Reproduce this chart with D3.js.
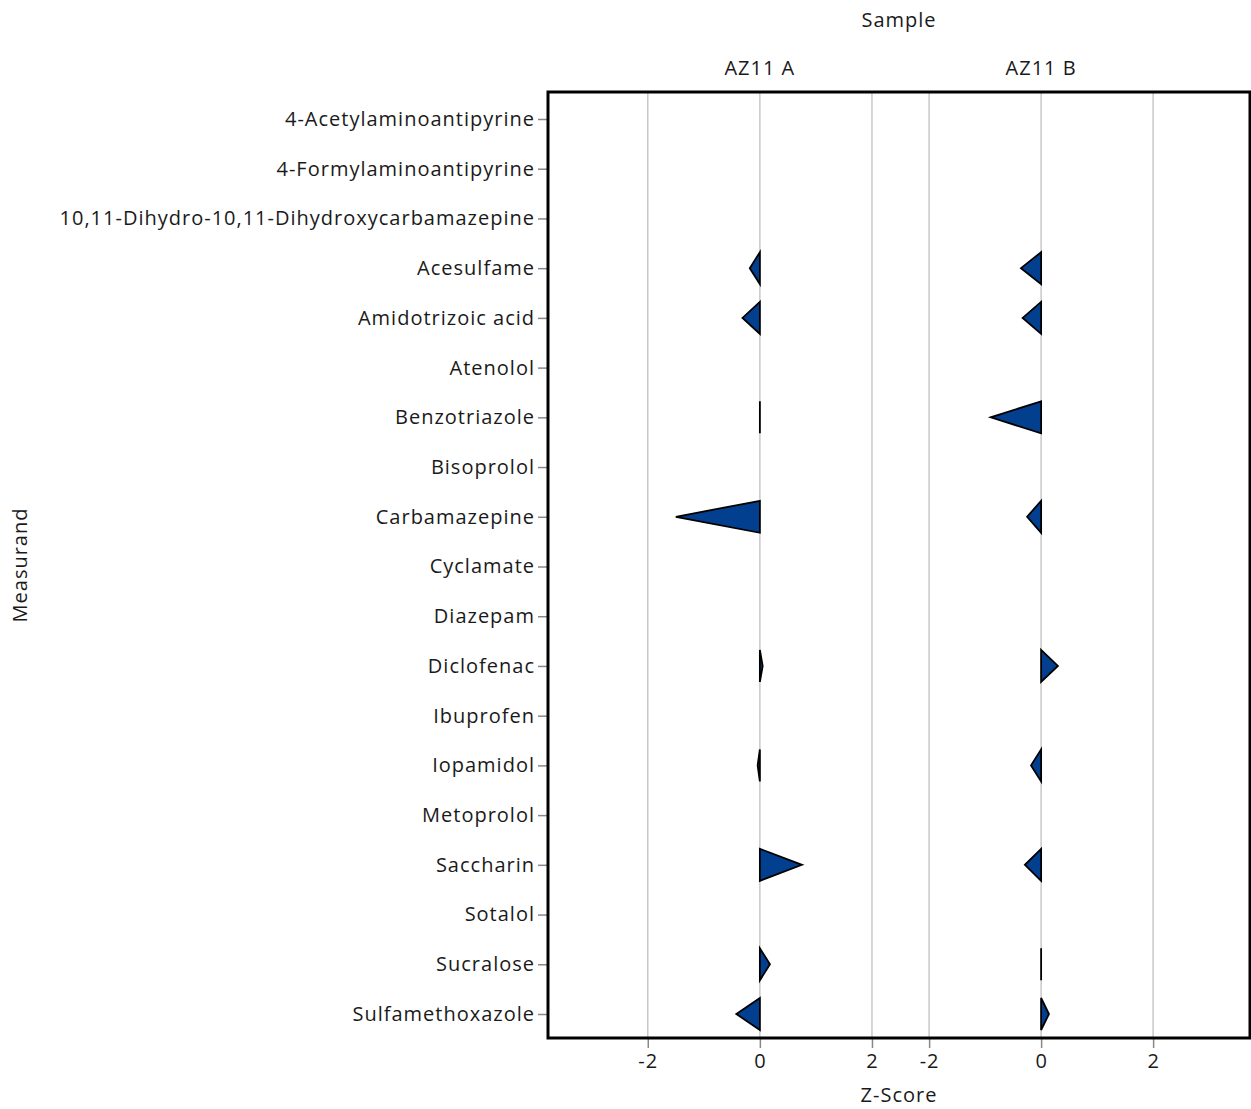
<!DOCTYPE html>
<html>
<head>
<meta charset="utf-8">
<script src="https://cdn.jsdelivr.net/npm/d3@7"></script>
<style>
  body { margin: 0; background: #fff; }
  text { font-family: "Open Sans", "Noto Sans", sans-serif; fill: #1a1a1a; letter-spacing: 1px; }
</style>
</head>
<body>
<svg width="1251" height="1109"></svg>
<script>
var measurands = ["4-Acetylaminoantipyrine", "4-Formylaminoantipyrine",
  "10,11-Dihydro-10,11-Dihydroxycarbamazepine", "Acesulfame", "Amidotrizoic acid",
  "Atenolol", "Benzotriazole", "Bisoprolol", "Carbamazepine", "Cyclamate", "Diazepam",
  "Diclofenac", "Ibuprofen", "Iopamidol", "Metoprolol", "Saccharin", "Sotalol",
  "Sucralose", "Sulfamethoxazole"];

var samples = ["AZ11 A", "AZ11 B"];

// z-scores per measurand, null = not reported
var zA = [null, null, null, -0.18, -0.31, null, 0.0, null, -1.5, null, null,
          0.05, null, -0.04, null, 0.75, null, 0.18, -0.42];
var zB = [null, null, null, -0.36, -0.33, null, -0.9, null, -0.25, null, null,
          0.30, null, -0.18, null, -0.29, null, 0.0, 0.14];

var xTicks = [-2, 0, 2];

var svg = d3.select("svg");
var pLeft = 548, pRight = 1250, pTop = 92, pBottom = 1038, pSplit = 900;

var y = d3.scalePoint()
  .domain(measurands)
  .range([119, 1014]);

var xs = [
  d3.scaleLinear().domain([-3.78, 2.5]).range([pLeft, pSplit]),
  d3.scaleLinear().domain([-2.52, 3.73]).range([pSplit, pRight])
];
var series = [zA, zB];

// gridlines
xs.forEach(function(x) {
  svg.append("g")
    .selectAll("line")
    .data(xTicks)
    .enter().append("line")
      .attr("x1", d => x(d)).attr("x2", d => x(d))
      .attr("y1", pTop).attr("y2", pBottom)
      .attr("stroke", "#c8c8c8")
      .attr("stroke-width", 1.5);
});

// triangles
var half = 16;
xs.forEach(function(x, i) {
  var pts = measurands.map((m, j) => ({m: m, z: series[i][j]}))
                      .filter(d => d.z !== null);
  svg.append("g")
    .selectAll("path")
    .data(pts)
    .enter().append("path")
      .attr("d", function(d) {
        var x0 = x(0), yc = y(d.m);
        return "M" + x0 + "," + (yc - half) + "L" + x(d.z) + "," + yc +
               "L" + x0 + "," + (yc + half) + "Z";
      })
      .attr("fill", "#023f8f")
      .attr("stroke", "#000")
      .attr("stroke-width", 1.8)
      .attr("stroke-linejoin", "miter");
});

// y axis
var yAxis = svg.append("g")
  .attr("transform", "translate(" + pLeft + ",0)")
  .call(d3.axisLeft(y).tickSize(10).tickPadding(3));
yAxis.select(".domain").remove();
yAxis.selectAll(".tick line").attr("stroke", "#888").attr("stroke-width", 1.5);
yAxis.selectAll(".tick text")
  .attr("font-size", 20)
  .attr("fill", "#1a1a1a")
  .attr("font-family", "'Open Sans', sans-serif");

// x axes
xs.forEach(function(x) {
  var ax = svg.append("g")
    .attr("transform", "translate(0," + pBottom + ")")
    .call(d3.axisBottom(x).tickValues(xTicks).tickFormat(d => String(d))
            .tickSize(10).tickPadding(6));
  ax.select(".domain").remove();
  ax.selectAll(".tick line").attr("stroke", "#888").attr("stroke-width", 1.5);
  ax.selectAll(".tick text")
    .attr("font-size", 20)
    .attr("fill", "#1a1a1a")
    .attr("font-family", "'Open Sans', sans-serif");
});

// frame
svg.append("rect")
  .attr("x", pLeft).attr("y", pTop)
  .attr("width", pRight - pLeft).attr("height", pBottom - pTop)
  .attr("fill", "none")
  .attr("stroke", "#000")
  .attr("stroke-width", 3);

// facet labels
svg.selectAll(".facet")
  .data(samples)
  .enter().append("text")
    .attr("class", "facet")
    .attr("x", (d, i) => xs[i](0))
    .attr("y", 75)
    .attr("text-anchor", "middle")
    .attr("font-size", 20)
    .text(d => d);

svg.append("text")
  .attr("x", 899).attr("y", 27)
  .attr("text-anchor", "middle")
  .attr("font-size", 20)
  .text("Sample");

svg.append("text")
  .attr("x", 899).attr("y", 1102)
  .attr("text-anchor", "middle")
  .attr("font-size", 20)
  .text("Z-Score");

svg.append("text")
  .attr("transform", "translate(27," + ((pTop + pBottom) / 2) + ") rotate(-90)")
  .attr("text-anchor", "middle")
  .attr("font-size", 20)
  .text("Measurand");
</script>
</body>
</html>
